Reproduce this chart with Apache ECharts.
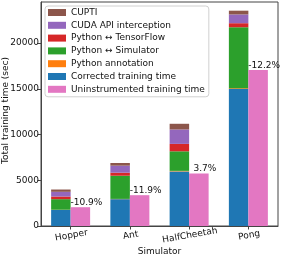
<!DOCTYPE html>
<html>
<head>
<meta charset="utf-8">
<script src="https://cdn.jsdelivr.net/npm/echarts@6/dist/echarts.min.js"></script>
<style>
html,body{margin:0;padding:0;background:#fff;}
#c{width:281px;height:257px;}
</style>
</head>
<body>
<div id="c"></div>
<script>
const categories = ['Hopper', 'Ant', 'HalfCheetah', 'Pong'];
const corrected = [1760, 2935, 5970, 15000];
const annotation = [20, 30, 60, 80];
const simulator = [1155, 2535, 2140, 6660];
const tensorflow = [290, 330, 810, 440];
const cudaApi = [515, 770, 1580, 960];
const cupti = [250, 290, 620, 410];
const uninstrumented = [2055, 3370, 5750, 17050];
const pctLabels = ['-10.9%', '-11.9%', '3.7%', '-12.2%'];
const yTicks = [0, 5000, 10000, 15000, 20000];

const FONT = 'DejaVu Sans';
const BW = 19.5;
const chart = echarts.init(document.getElementById('c'), null, {renderer: 'canvas'});

function stackSeries(name, data, color) {
  return {
    name: name, type: 'bar', stack: 'a', data: data, barWidth: BW,
    itemStyle: {color: color}, emphasis: {disabled: true}
  };
}

chart.setOption({
  animation: false,
  textStyle: {fontFamily: FONT},
  grid: {left: 41, right: 3, top: 2, bottom: 31, containLabel: false, outerBoundsMode: 'none', show: true, borderColor: '#444', borderWidth: 1, backgroundColor: 'transparent'},
  legend: {
    orient: 'vertical', left: 45, top: 6,
    padding: [1, 4, 2, 3],
    itemWidth: 18, itemHeight: 7, itemGap: 1.8,
    borderColor: '#d0d0d0', borderWidth: 1, borderRadius: 3,
    backgroundColor: '#fff',
    textStyle: {fontFamily: FONT, fontSize: 9, color: '#111', lineHeight: 11},
    icon: 'rect',
    data: ['CUPTI', 'CUDA API interception', 'Python \u2194 TensorFlow', 'Python \u2194 Simulator', 'Python annotation', 'Corrected training time', 'Uninstrumented training time']
  },
  xAxis: {
    type: 'category', data: categories,
    name: 'Simulator', nameLocation: 'middle', nameGap: 21, nameMoveOverlap: false,
    nameTextStyle: {fontFamily: FONT, fontSize: 9, color: '#111'},
    axisLine: {show: true, lineStyle: {color: '#444'}},
    axisTick: {show: true, alignWithLabel: true, length: 3.5, lineStyle: {color: '#444'}},
    axisLabel: {interval: 0, hideOverlap: false, fontFamily: FONT, fontSize: 9, color: '#111', rotate: 10, margin: 5, align: 'center', verticalAlign: 'top'}
  },
  yAxis: {
    type: 'value', min: 0, max: 24500, interval: 5000,
    name: 'Total training time (sec)', nameLocation: 'middle', nameGap: 31, nameMoveOverlap: false,
    nameTextStyle: {fontFamily: FONT, fontSize: 9, color: '#111', padding: [0, 0, 0, 7]},
    axisLine: {show: true, lineStyle: {color: '#444'}},
    axisTick: {show: true, length: 3.5, lineStyle: {color: '#444'}, customValues: yTicks},
    axisLabel: {fontFamily: FONT, fontSize: 9, color: '#111', margin: 2, customValues: yTicks, formatter: function (v) { return String(v); }},
    splitLine: {show: false}
  },
  series: [
    stackSeries('Corrected training time', corrected, '#1f77b4'),
    stackSeries('Python annotation', annotation, '#ff7f0e'),
    stackSeries('Python \u2194 Simulator', simulator, '#2ca02c'),
    stackSeries('Python \u2194 TensorFlow', tensorflow, '#d62728'),
    stackSeries('CUDA API interception', cudaApi, '#9467bd'),
    stackSeries('CUPTI', cupti, '#8c564b'),
    {
      name: 'Uninstrumented training time', type: 'bar', data: uninstrumented,
      barWidth: BW, barGap: 0, itemStyle: {color: '#e377c2'}, emphasis: {disabled: true},
      label: {
        show: true, position: 'top', distance: 0, offset: [6, 0],
        fontFamily: FONT, fontSize: 9, color: '#111',
        formatter: function (p) { return pctLabels[p.dataIndex]; }
      }
    }
  ]
});
</script>
</body>
</html>
